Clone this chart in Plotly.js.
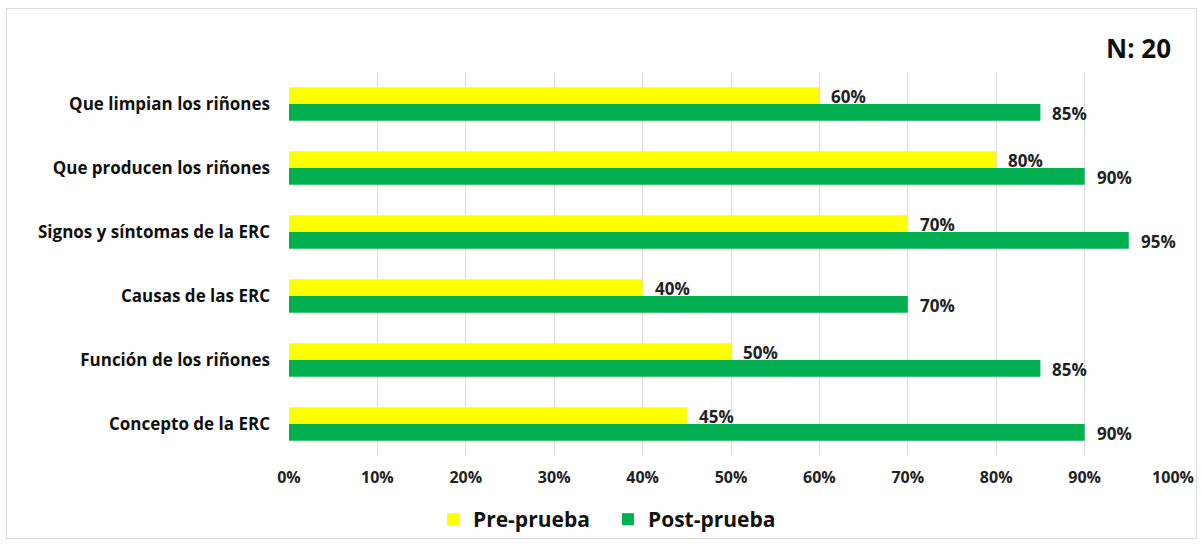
<!DOCTYPE html>
<html><head><meta charset="utf-8">
<script src="https://cdn.plot.ly/plotly-3.0.1.min.js"></script>
<style>body{margin:0;background:#fff}#c{width:1201px;height:544px;position:relative}
#frame{position:absolute;left:6px;top:8px;width:1189px;height:529px;border:1px solid #d9d9d9;pointer-events:none}</style>
</head><body><div id="c"></div><div id="frame"></div>
<script>
const categories = ["Que limpian los riñones","Que producen los riñones","Signos y síntomas de la ERC","Causas de las ERC","Función de los riñones","Concepto de la ERC"];
const prePrueba = [0.60,0.80,0.70,0.40,0.50,0.45];
const postPrueba = [0.85,0.90,0.95,0.70,0.85,0.90];
const seriesNames = ["Pre-prueba","Post-prueba"];
const xTicks = [0,0.1,0.2,0.3,0.4,0.5,0.6,0.7,0.8,0.9,1];
const nLabel = "N: 20";
const fmt = v => Math.round(v*100)+"%";
const font = "Open Sans, Verdana, DejaVu Sans, sans-serif";
const colors = ['#FFFF00','#00B050'];
const mk = (vals,name,color)=>({type:'bar',orientation:'h',y:categories,x:vals,name:name,
  marker:{color:color},hoverinfo:'x+name'});
const data=[mk(prePrueba,seriesNames[0],colors[0]),mk(postPrueba,seriesNames[1],colors[1])];
const anns=[];
[prePrueba,postPrueba].forEach((vals,k)=>{
  vals.forEach((v,i)=>anns.push({x:v,y:categories[i],xref:'x',yref:'y',text:fmt(v),showarrow:false,
    xanchor:'left',yanchor:'middle',xshift:10,yshift:k===0?8:-9,
    font:{family:font,size:17,color:'#222',weight:'bold'}}));
});
anns.push({text:nLabel,xref:'paper',yref:'paper',x:1.0,y:1.0625,xanchor:'right',yanchor:'middle',
    showarrow:false,font:{family:font,size:26,color:'#111',weight:'bold'}});
const layout={width:1201,height:544,margin:{l:289,r:28,t:72,b:88,autoexpand:false},
  paper_bgcolor:'#fff',plot_bgcolor:'#fff',barmode:'group',bargap:0.48,bargroupgap:0,
  font:{family:font,color:'#222'},
  xaxis:{range:[0,1],tickvals:xTicks,tickformat:'.0%',automargin:false,
    showgrid:true,gridcolor:'#d9d9d9',zeroline:false,showline:false,ticklabelstandoff:10,
    tickfont:{family:font,size:16,color:'#222',weight:'bold'},fixedrange:true},
  yaxis:{autorange:'reversed',showgrid:false,showline:false,ticks:'',ticklabelstandoff:18,automargin:false,
    tickfont:{family:font,size:17,color:'#111',weight:'bold'},fixedrange:true},
  legend:{orientation:'h',xref:'container',x:0.3605,xanchor:'left',yref:'container',y:0.045,yanchor:'middle',
    font:{family:font,size:21,color:'#111',weight:'bold'},traceorder:'normal',itemwidth:30,entrywidth:130},
  annotations:anns,showlegend:true};
Plotly.newPlot('c',data,layout,{displayModeBar:false,staticPlot:true});
</script></body></html>
